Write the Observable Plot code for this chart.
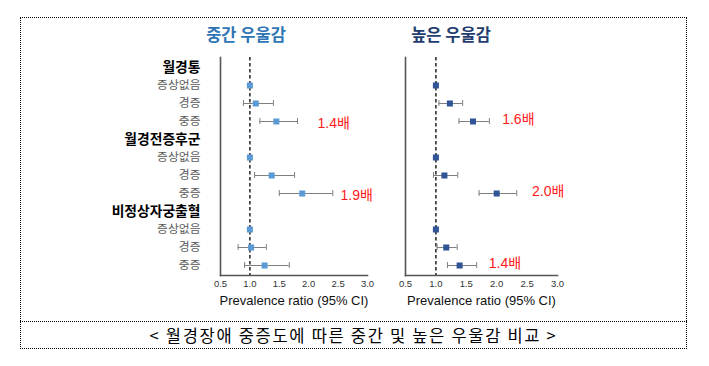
<!DOCTYPE html>
<html><head><meta charset="utf-8">
<script src="https://cdn.jsdelivr.net/npm/d3@7"></script>
<script src="https://cdn.jsdelivr.net/npm/@observablehq/plot@0.6"></script>
<style>
body{margin:0;background:#fff;}
#wrap{position:relative;width:709px;height:366px;font-family:"Noto Sans CJK KR","Liberation Sans",sans-serif;}
.box{position:absolute;left:20px;top:17px;width:667px;height:332px;border:1px dotted #000;box-sizing:border-box;}
.divider{position:absolute;left:20px;top:321px;width:667px;height:0;border-top:1px dotted #000;}
.caption{position:absolute;left:20px;width:667px;top:323px;text-align:center;font-size:16.5px;letter-spacing:1.7px;color:#000;line-height:24px;}
.title{position:absolute;top:21px;font-size:16.5px;font-weight:bold;transform:translateX(-50%);white-space:nowrap;line-height:26px;}
.panel{position:absolute;top:0;}
</style></head>
<body><div id="wrap">
<div class="box"></div>
<div class="divider"></div>
<div class="caption">&lt; 월경장애 중증도에 따른 중간 및 높은 우울감 비교 &gt;</div>
<div class="title" style="left:246px;color:#2e75b6">중간 우울감</div>
<div class="title" style="left:451px;color:#1f3d6e">높은 우울감</div>
<div id="left" class="panel" style="left:0px"></div>
<div id="right" class="panel" style="left:380px"></div>
</div>
<script>
// ---- data ----
const groups = ["월경통", "월경전증후군", "비정상자궁출혈"];
const levels = ["증상없음", "경증", "중증"];
const xTicks = [0.5, 1.0, 1.5, 2.0, 2.5, 3.0];
const refValue = 1.0;

// 중간 우울감 (moderate)
const modEst = [1.00, 1.10, 1.45, 1.00, 1.37, 1.89, 1.00, 1.02, 1.25];
const modLo  = [null, 0.89, 1.17, null, 1.08, 1.50, null, 0.80, 0.91];
const modHi  = [null, 1.40, 1.81, null, 1.76, 2.41, null, 1.28, 1.67];
const modNotes = ["1.4배", "1.9배"];
const modNoteRows = ["월경통|중증", "월경전증후군|중증"];
const modNoteX = [2.15, 2.54];

// 높은 우울감 (high)
const highEst = [1.00, 1.23, 1.61, 1.00, 1.14, 2.00, 1.00, 1.17, 1.39];
const highLo  = [null, 1.05, 1.38, null, 0.96, 1.71, null, 1.02, 1.19];
const highHi  = [null, 1.44, 1.88, null, 1.36, 2.33, null, 1.35, 1.67];
const highNotes = ["1.6배", "2.0배", "1.4배"];
const highNoteRows = ["월경통|중증", "월경전증후군|중증", "비정상자궁출혈|중증"];
const highNoteX = [2.09, 2.58, 1.87];

// ---- build tables ----
const rows = [];
groups.forEach(g => {
  rows.push({id: g, label: g, header: true});
  levels.forEach(l => rows.push({id: g + "|" + l, label: l, header: false}));
});
const rowIds = rows.map(r => r.id);
function points(est, lo, hi) {
  const out = [];
  groups.forEach((g, gi) => levels.forEach((l, li) => {
    const i = gi * 3 + li;
    out.push({id: g + "|" + l, est: est[i], lo: lo[i], hi: hi[i]});
  }));
  return out;
}
function notes(texts, rs, xs) {
  return texts.map((t, i) => ({text: t, id: rs[i], x: xs[i]}));
}

const FONT = '"Liberation Sans","Noto Sans CJK KR",sans-serif';
const KFONT = '"Noto Sans CJK KR",sans-serif';

function panel({data, noteData, color, width, marginLeft, marginRight, labels, noteDy}) {
  const bars = data.filter(d => d.lo != null);
  const marks = [
    Plot.frame({anchor: "left", stroke: "#555", strokeWidth: 1.6}),
    Plot.frame({anchor: "bottom", stroke: "#555", strokeWidth: 1.6}),
    Plot.ruleX([refValue], {stroke: "#222", strokeWidth: 1.5, strokeDasharray: "3.5,2.5"}),
    Plot.ruleY(bars, {y: "id", x1: "lo", x2: "hi", stroke: "#808080", strokeWidth: 1}),
    Plot.tickX(bars, {y: "id", x: "lo", stroke: "#808080", strokeWidth: 1, insetTop: 6, insetBottom: 6}),
    Plot.tickX(bars, {y: "id", x: "hi", stroke: "#808080", strokeWidth: 1, insetTop: 6, insetBottom: 6}),
    Plot.dot(data, {y: "id", x: "est", symbol: "square", r: 3.4, fill: color, stroke: "none"}),
    Plot.text(noteData, {y: "id", x: "x", text: "text", textAnchor: "start", fill: "#ff1a1a", fontSize: 14, fontFamily: FONT, dy: noteDy}),
    Plot.axisX({ticks: xTicks, tickFormat: d3.format(".1f"), tickSize: 0, tickPadding: 5, fontSize: 9.5, fill: "#333", label: null, fontFamily: FONT}),
    Plot.text(["Prevalence ratio (95% CI)"], {frameAnchor: "bottom", dy: 29, fontSize: 13, fill: "#111", fontFamily: FONT})
  ];
  if (labels) {
    marks.push(Plot.text(rows.filter(r => r.header), {y: "id", text: "label", frameAnchor: "left", textAnchor: "end", dx: -20, fontWeight: "bold", fontSize: 13.8, fill: "#000", fontFamily: KFONT}));
    marks.push(Plot.text(rows.filter(r => !r.header), {y: "id", text: "label", frameAnchor: "left", textAnchor: "end", dx: -20, fontSize: 11.8, fill: "#595959", fontFamily: KFONT}));
  }
  return Plot.plot({
    width, height: 310,
    marginTop: 57, marginBottom: 35, marginLeft, marginRight,
    x: {domain: [0.5, 3.0], axis: null},
    y: {type: "band", domain: rowIds, padding: 0, axis: null},
    style: {background: "transparent", overflow: "visible", fontFamily: FONT},
    marks
  });
}

document.getElementById("left").appendChild(panel({
  data: points(modEst, modLo, modHi),
  noteData: notes(modNotes, modNoteRows, modNoteX),
  color: "#5b9bd5", width: 380, marginLeft: 220, marginRight: 13, labels: true, noteDy: 2
}));
document.getElementById("right").appendChild(panel({
  data: points(highEst, highLo, highHi),
  noteData: notes(highNotes, highNoteRows, highNoteX),
  color: "#2f5597", width: 200, marginLeft: 25, marginRight: 23, labels: false, noteDy: -2
}));
</script>
</body></html>
